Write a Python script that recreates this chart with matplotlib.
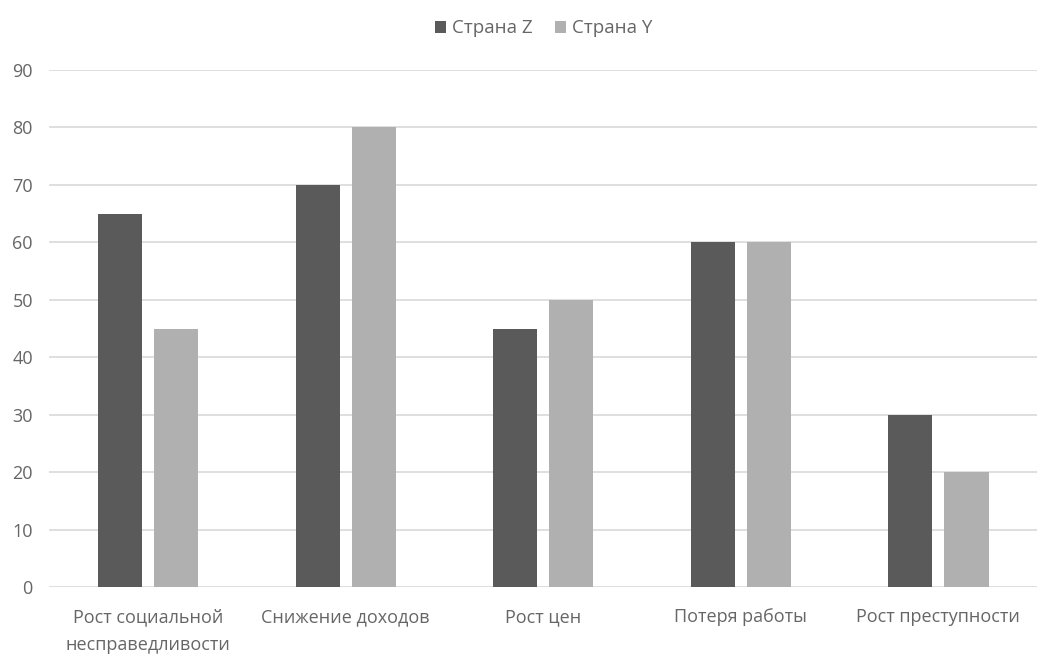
import numpy as np
import matplotlib.pyplot as plt

categories = ["Рост социальной\nнесправедливости", "Снижение доходов", "Рост цен",
              "Потеря работы", "Рост преступности"]
country_z = [65, 70, 45, 60, 30]
country_y = [45, 80, 50, 60, 20]
series_names = ["Страна Z", "Страна Y"]

plt.rcParams['font.family'] = ['Open Sans', 'DejaVu Sans']
text_color = "#666666"

fig = plt.figure(figsize=(10.53, 6.65), dpi=100)
ax = fig.add_axes([0.047, 0.117, 0.938, 0.778])

x = np.arange(len(categories))
w = 0.223
off = 0.142
ax.bar(x - off, country_z, w, color="#5a5a5a", label=series_names[0], zorder=3)
ax.bar(x + off, country_y, w, color="#b0b0b0", label=series_names[1], zorder=3)

ax.set_xlim(-0.5, len(categories) - 0.5)
ax.set_ylim(0, 90)
ax.set_yticks(range(0, 91, 10))
ax.set_xticks(x)
ax.set_xticklabels(categories, linespacing=1.7)
ax.grid(axis="y", color="#d9d9d9", linewidth=1.2, zorder=0)
for s in ax.spines.values():
    s.set_visible(False)
ax.tick_params(axis="both", length=0, colors=text_color, labelsize=13)
ax.tick_params(axis="y", pad=12)
ax.tick_params(axis="x", pad=15)

ax.legend(loc="upper center", bbox_to_anchor=(0.5, 1.13), ncol=2, frameon=False,
          fontsize=13.5, labelcolor=text_color, handlelength=0.6, handleheight=0.6,
          handletextpad=0.3, columnspacing=1.2)

fig.savefig("out.png", dpi=100)
